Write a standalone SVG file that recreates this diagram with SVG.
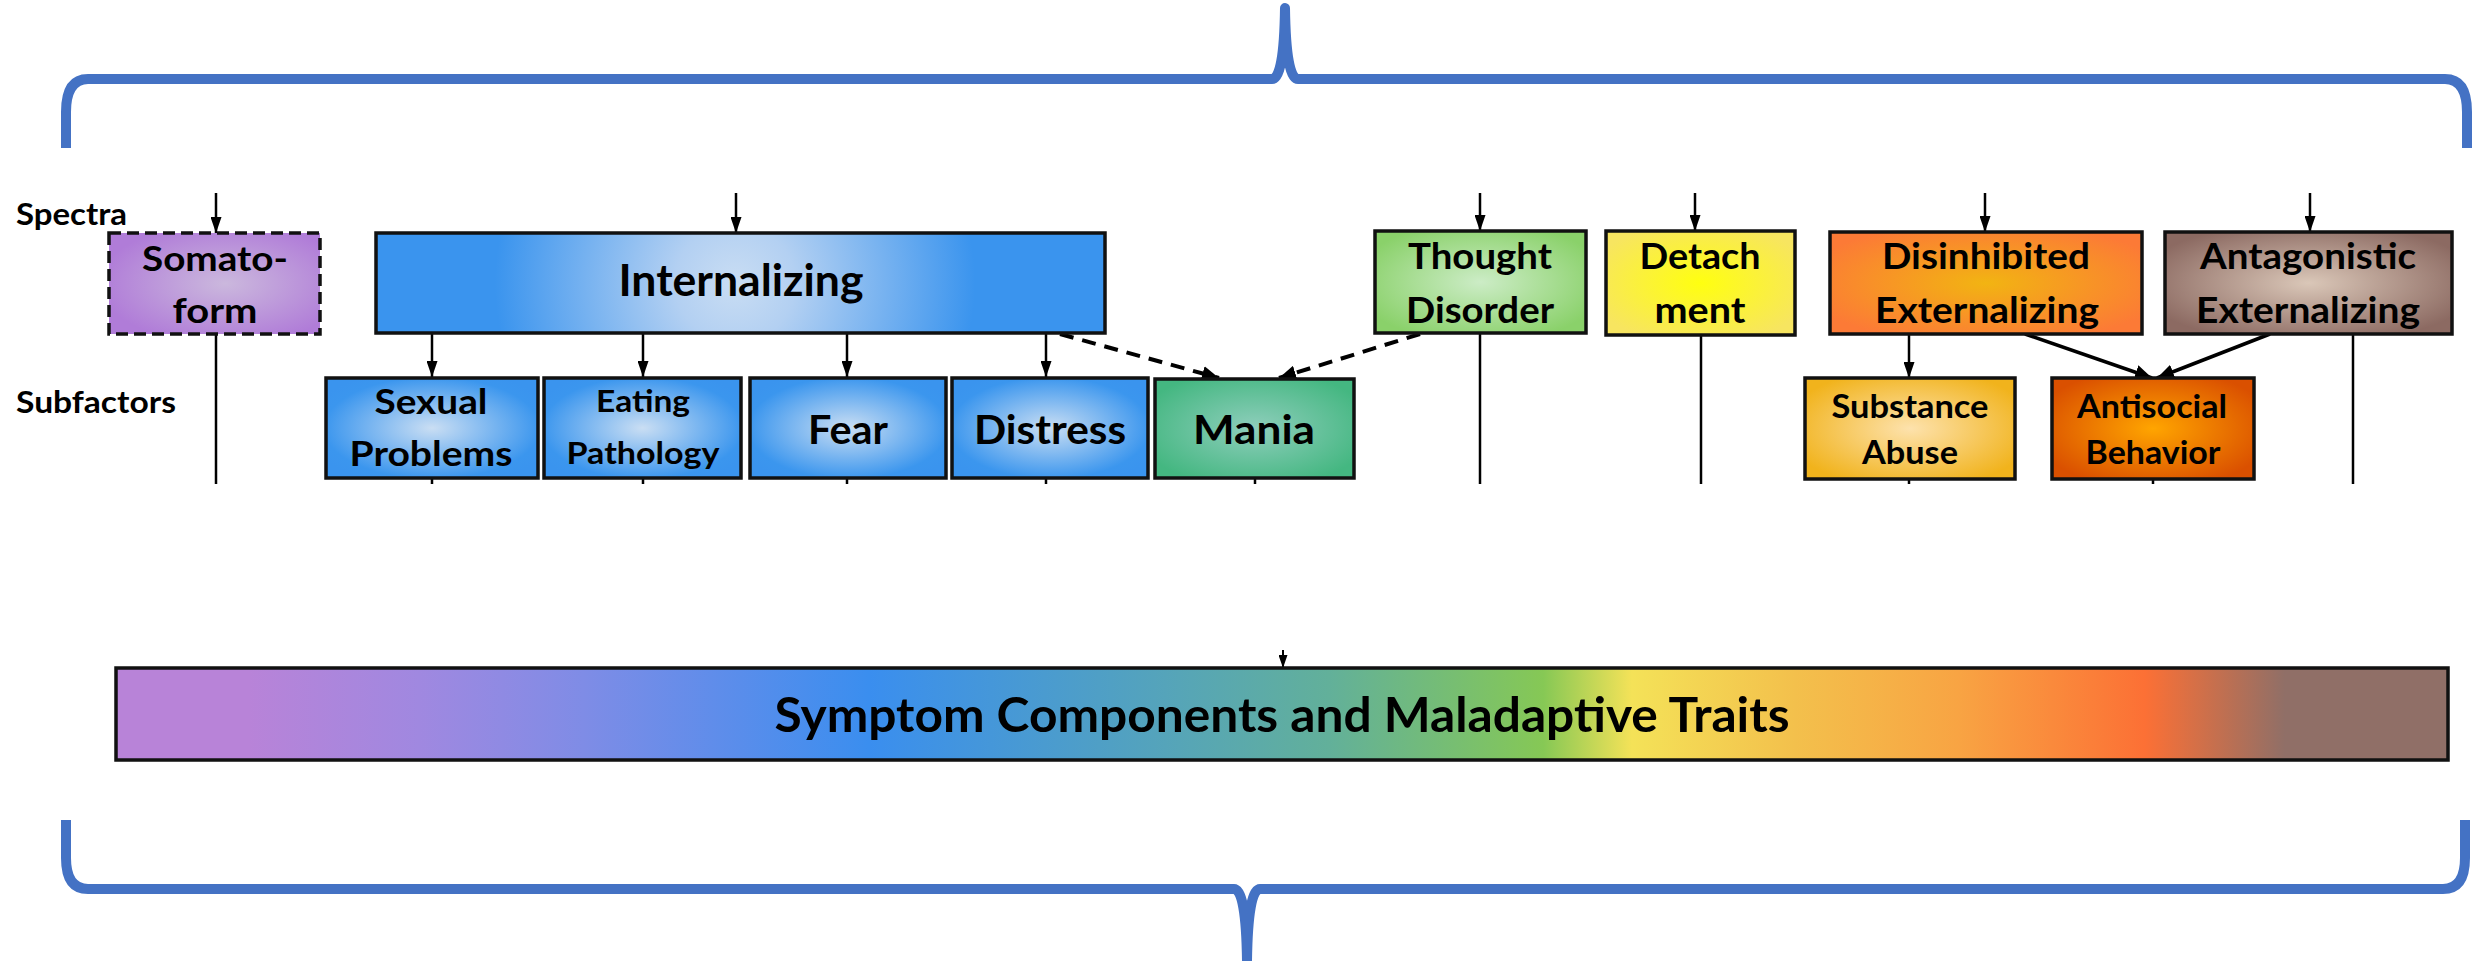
<svg xmlns="http://www.w3.org/2000/svg" width="2481" height="961" viewBox="0 0 2481 961">
<style>
.box{stroke:#111;stroke-width:3.5}
.dbox{stroke:#111;stroke-width:3.5;stroke-dasharray:12 6}
.t{font-family:Lato,"Liberation Sans",Arial,sans-serif;font-weight:bold;fill:#000;text-anchor:middle}
.lbl{font-family:Lato,"Liberation Sans",Arial,sans-serif;font-weight:bold;fill:#000}
.ln{stroke:#000;stroke-width:2.5;fill:none}
.ar{stroke:#000;stroke-width:2.5;fill:none;marker-end:url(#ah)}
.ar2{stroke:#000;stroke-width:3.5;fill:none;marker-end:url(#ah2)}
.da{stroke:#000;stroke-width:4;fill:none;stroke-dasharray:14 9;marker-end:url(#ah2)}
.brace{stroke:#4472C4;stroke-width:10;fill:none;stroke-linejoin:round}
</style>
<defs>
<marker id="ah" markerUnits="userSpaceOnUse" markerWidth="16" markerHeight="11" refX="16" refY="5.5" orient="auto"><path d="M0,0 L16,5.5 L0,11 z" fill="#000"/></marker>
<marker id="ah2" markerUnits="userSpaceOnUse" markerWidth="17" markerHeight="15" refX="17" refY="7.5" orient="auto"><path d="M0,0 L17,7.5 L0,15 z" fill="#000"/></marker>
<marker id="ah3" markerUnits="userSpaceOnUse" markerWidth="13" markerHeight="9" refX="13" refY="4.5" orient="auto"><path d="M0,0 L13,4.5 L0,9 z" fill="#000"/></marker>
<radialGradient id="gBlue" cx="0.5" cy="0.5" r="0.6"><stop offset="0" stop-color="#CADEF3"/><stop offset="0.85" stop-color="#3B96EE"/><stop offset="1" stop-color="#3A94EE"/></radialGradient>
<radialGradient id="gInt" gradientUnits="userSpaceOnUse" cx="735" cy="283" r="240"><stop offset="0" stop-color="#C9DDF3"/><stop offset="0.25" stop-color="#B3D0F2"/><stop offset="1" stop-color="#3A94EE"/></radialGradient>
<radialGradient id="gSom" cx="0.55" cy="0.5" r="0.6"><stop offset="0" stop-color="#CBB8DD"/><stop offset="1" stop-color="#B07CD8"/></radialGradient>
<radialGradient id="gMan" cx="0.5" cy="0.5" r="0.6"><stop offset="0" stop-color="#8FCEBC"/><stop offset="1" stop-color="#44B781"/></radialGradient>
<radialGradient id="gTho" cx="0.5" cy="0.5" r="0.6"><stop offset="0" stop-color="#CCECC6"/><stop offset="1" stop-color="#8AD16A"/></radialGradient>
<radialGradient id="gDet" cx="0.5" cy="0.5" r="0.6"><stop offset="0" stop-color="#FFFF10"/><stop offset="1" stop-color="#F7E560"/></radialGradient>
<radialGradient id="gDis" cx="0.5" cy="0.5" r="0.6"><stop offset="0" stop-color="#F2B412"/><stop offset="1" stop-color="#FC7A36"/></radialGradient>
<radialGradient id="gAnt" cx="0.5" cy="0.5" r="0.6"><stop offset="0" stop-color="#DAC7B8"/><stop offset="1" stop-color="#8C6A62"/></radialGradient>
<radialGradient id="gSub" cx="0.5" cy="0.5" r="0.6"><stop offset="0" stop-color="#FDE2AD"/><stop offset="1" stop-color="#F1B31C"/></radialGradient>
<radialGradient id="gAso" cx="0.5" cy="0.5" r="0.6"><stop offset="0" stop-color="#FFA500"/><stop offset="1" stop-color="#DA5000"/></radialGradient>
<linearGradient id="gBar" x1="0" y1="0" x2="1" y2="0">
<stop offset="0.057" stop-color="#B883D8"/>
<stop offset="0.13" stop-color="#A088E0"/>
<stop offset="0.2" stop-color="#7F8CE6"/>
<stop offset="0.323" stop-color="#3A8EEF"/>
<stop offset="0.45" stop-color="#55A4BA"/>
<stop offset="0.52" stop-color="#62B09A"/>
<stop offset="0.612" stop-color="#86C855"/>
<stop offset="0.65" stop-color="#F4E258"/>
<stop offset="0.72" stop-color="#F3C04C"/>
<stop offset="0.79" stop-color="#F8A443"/>
<stop offset="0.87" stop-color="#FC7035"/>
<stop offset="0.93" stop-color="#906F67"/>
<stop offset="1" stop-color="#906F67"/>
</linearGradient>
</defs>
<rect width="2481" height="961" fill="#fff"/>

<g id="braces">
<path class="brace" d="M66,148 L66,112 Q66,79 88,79 L1272,79 Q1284,79 1285,8 Q1286,79 1298,79 L2445,79 Q2467,79 2467,112 L2467,148"/>
<path class="brace" d="M66,820 L66,858 Q66,889 88,889 L1234,889 Q1246,889 1247,961 Q1248,889 1260,889 L2443,889 Q2465,889 2465,858 L2465,820"/>
</g>

<g id="row-labels">
<text class="lbl" x="16" y="225" font-size="30" textLength="111" lengthAdjust="spacingAndGlyphs">Spectra</text>
<text class="lbl" x="16" y="413" font-size="30" textLength="160" lengthAdjust="spacingAndGlyphs">Subfactors</text>
</g>

<g id="connectors">
<line class="ar" x1="216" y1="193" x2="216" y2="233"/>
<line class="ar" x1="736" y1="193" x2="736" y2="233"/>
<line class="ar" x1="1480" y1="193" x2="1480" y2="231"/>
<line class="ar" x1="1695" y1="193" x2="1695" y2="231"/>
<line class="ar" x1="1985" y1="193" x2="1985" y2="232"/>
<line class="ar" x1="2310" y1="193" x2="2310" y2="232"/>
<line class="ar" x1="432" y1="333" x2="432" y2="377"/>
<line class="ar" x1="643" y1="333" x2="643" y2="377"/>
<line class="ar" x1="847" y1="333" x2="847" y2="377"/>
<line class="ar" x1="1046" y1="333" x2="1046" y2="377"/>
<line class="ar" x1="1909" y1="334" x2="1909" y2="378"/>
<line class="da" x1="1060" y1="334" x2="1219" y2="378"/>
<line class="da" x1="1420" y1="334" x2="1279" y2="378"/>
<line class="ar2" x1="2025" y1="334" x2="2152" y2="378"/>
<line class="ar2" x1="2270" y1="334" x2="2157" y2="378"/>
<line class="ln" x1="216" y1="334" x2="216" y2="484"/>
<line class="ln" x1="1480" y1="333" x2="1480" y2="484"/>
<line class="ln" x1="1701" y1="335" x2="1701" y2="484"/>
<line class="ln" x1="2353" y1="334" x2="2353" y2="484"/>
<line class="ln" x1="432" y1="478" x2="432" y2="484"/>
<line class="ln" x1="643" y1="478" x2="643" y2="484"/>
<line class="ln" x1="847" y1="478" x2="847" y2="484"/>
<line class="ln" x1="1046" y1="478" x2="1046" y2="484"/>
<line class="ln" x1="1255" y1="478" x2="1255" y2="484"/>
<line class="ln" x1="1909" y1="479" x2="1909" y2="484"/>
<line class="ln" x1="2153" y1="479" x2="2153" y2="484"/>
<line stroke="#000" stroke-width="2" marker-end="url(#ah3)" x1="1283" y1="650" x2="1283" y2="668"/>
</g>

<g id="somatoform">
<rect class="dbox" x="109" y="233" width="211" height="101" fill="url(#gSom)"/>
<text class="t" x="215" y="271" font-size="35" textLength="146" lengthAdjust="spacingAndGlyphs">Somato-</text>
<text class="t" x="215" y="323" font-size="35" textLength="85" lengthAdjust="spacingAndGlyphs">form</text>
</g>
<g id="internalizing">
<rect class="box" x="376" y="233" width="729" height="100" fill="url(#gInt)"/>
<text class="t" x="741" y="296" font-size="43" textLength="245" lengthAdjust="spacingAndGlyphs">Internalizing</text>
</g>
<g id="sexual-problems">
<rect class="box" x="326" y="378" width="212" height="100" fill="url(#gBlue)"/>
<text class="t" x="431" y="414" font-size="35" textLength="113" lengthAdjust="spacingAndGlyphs">Sexual</text>
<text class="t" x="431" y="466" font-size="35" textLength="163" lengthAdjust="spacingAndGlyphs">Problems</text>
</g>
<g id="eating-pathology">
<rect class="box" x="544" y="378" width="197" height="100" fill="url(#gBlue)"/>
<text class="t" x="643" y="412" font-size="30" textLength="94" lengthAdjust="spacingAndGlyphs">Eating</text>
<text class="t" x="643" y="464" font-size="30" textLength="153" lengthAdjust="spacingAndGlyphs">Pathology</text>
</g>
<g id="fear">
<rect class="box" x="750" y="378" width="196" height="100" fill="url(#gBlue)"/>
<text class="t" x="848" y="444" font-size="41" textLength="80" lengthAdjust="spacingAndGlyphs">Fear</text>
</g>
<g id="distress">
<rect class="box" x="952" y="378" width="196" height="100" fill="url(#gBlue)"/>
<text class="t" x="1050" y="444" font-size="41" textLength="152" lengthAdjust="spacingAndGlyphs">Distress</text>
</g>
<g id="mania">
<rect class="box" x="1155" y="379" width="199" height="99" fill="url(#gMan)"/>
<text class="t" x="1254" y="444" font-size="41" textLength="122" lengthAdjust="spacingAndGlyphs">Mania</text>
</g>
<g id="thought-disorder">
<rect class="box" x="1375" y="231" width="211" height="102" fill="url(#gTho)"/>
<text class="t" x="1480" y="269" font-size="36" textLength="144" lengthAdjust="spacingAndGlyphs">Thought</text>
<text class="t" x="1480" y="323" font-size="36" textLength="148" lengthAdjust="spacingAndGlyphs">Disorder</text>
</g>
<g id="detachment">
<rect class="box" x="1606" y="231" width="189" height="104" fill="url(#gDet)"/>
<text class="t" x="1700" y="269" font-size="36" textLength="121" lengthAdjust="spacingAndGlyphs">Detach</text>
<text class="t" x="1700" y="323" font-size="36" textLength="91" lengthAdjust="spacingAndGlyphs">ment</text>
</g>
<g id="disinhibited-externalizing">
<rect class="box" x="1830" y="232" width="312" height="102" fill="url(#gDis)"/>
<text class="t" x="1986" y="269" font-size="36" textLength="208" lengthAdjust="spacingAndGlyphs">Disinhibited</text>
<text class="t" x="1987" y="323" font-size="36" textLength="224" lengthAdjust="spacingAndGlyphs">Externalizing</text>
</g>
<g id="antagonistic-externalizing">
<rect class="box" x="2165" y="232" width="287" height="102" fill="url(#gAnt)"/>
<text class="t" x="2308" y="269" font-size="36" textLength="216" lengthAdjust="spacingAndGlyphs">Antagonistic</text>
<text class="t" x="2308" y="323" font-size="36" textLength="224" lengthAdjust="spacingAndGlyphs">Externalizing</text>
</g>
<g id="substance-abuse">
<rect class="box" x="1805" y="378" width="210" height="101" fill="url(#gSub)"/>
<text class="t" x="1910" y="418" font-size="32" textLength="157" lengthAdjust="spacingAndGlyphs">Substance</text>
<text class="t" x="1910" y="464" font-size="32" textLength="96" lengthAdjust="spacingAndGlyphs">Abuse</text>
</g>
<g id="antisocial-behavior">
<rect class="box" x="2052" y="378" width="202" height="101" fill="url(#gAso)"/>
<text class="t" x="2152" y="418" font-size="32" textLength="150" lengthAdjust="spacingAndGlyphs">Antisocial</text>
<text class="t" x="2153" y="464" font-size="32" textLength="135" lengthAdjust="spacingAndGlyphs">Behavior</text>
</g>
<g id="symptom-bar">
<rect class="box" x="116" y="668" width="2332" height="92" fill="url(#gBar)"/>
<text class="t" x="1282" y="732" font-size="47" textLength="1015" lengthAdjust="spacingAndGlyphs">Symptom Components and Maladaptive Traits</text>
</g>
</svg>
